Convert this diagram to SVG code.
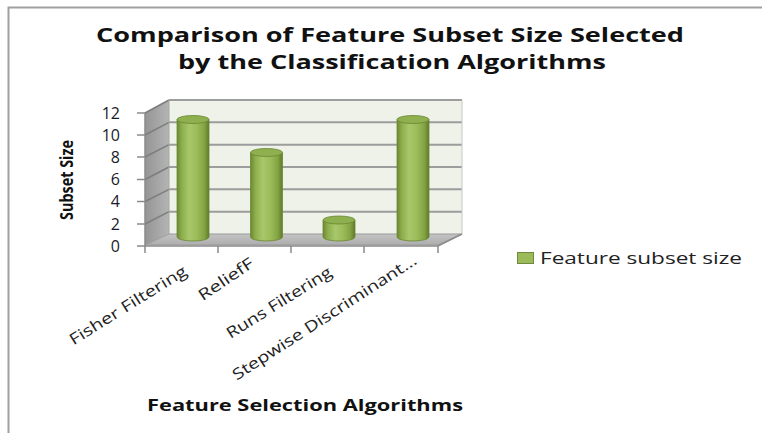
<svg xmlns="http://www.w3.org/2000/svg" width="762" height="433" viewBox="0 0 762 433">
<style>
.title{font-family:"Open Sans","Liberation Sans",sans-serif;font-weight:bold;font-size:20px;fill:#111}
.axtitle{font-family:"Open Sans","Liberation Sans",sans-serif;font-weight:bold;font-size:16px;fill:#111}
.ytitle{font-family:"Open Sans","Liberation Sans",sans-serif;font-weight:bold;font-size:18px;fill:#111}
.tick{font-family:"Open Sans","Liberation Sans",sans-serif;font-size:16px;fill:#1a1a2a}
.cat{font-family:"Open Sans","Liberation Sans",sans-serif;font-size:15.5px;fill:#222}
.leg{font-family:"Open Sans","Liberation Sans",sans-serif;font-size:16.5px;fill:#222}
.grid{stroke:#9d9d9d;stroke-width:2;fill:none}
.sgrid{stroke:#7d7d7d;stroke-width:1.5;fill:none}
.axis{stroke:#8a8a8a;stroke-width:1.5;fill:none}
.body{fill:url(#cyl);stroke:#6a8732;stroke-width:0.8}
.top{fill:#8fb04f;stroke:#6a8732;stroke-width:0.8}
</style>
<defs>
<linearGradient id="cyl" x1="0" y1="0" x2="1" y2="0">
<stop offset="0" stop-color="#6b8932"/>
<stop offset="0.15" stop-color="#8dae4c"/>
<stop offset="0.38" stop-color="#a7c76a"/>
<stop offset="0.62" stop-color="#9cbc5a"/>
<stop offset="0.85" stop-color="#84a444"/>
<stop offset="1" stop-color="#5f7b2a"/>
</linearGradient>
<linearGradient id="side" x1="0" y1="0" x2="1" y2="0">
<stop offset="0" stop-color="#959595"/>
<stop offset="1" stop-color="#b4b4b4"/>
</linearGradient>
<linearGradient id="floor" x1="0" y1="0" x2="0" y2="1">
<stop offset="0" stop-color="#c4c4c4"/>
<stop offset="1" stop-color="#adadad"/>
</linearGradient>
</defs>
<rect width="762" height="433" fill="#ffffff"/>
<path d="M8.5 433 V7.5 H762" fill="none" stroke="#a0a0a0" stroke-width="2"/>

<g id="title">
<text class="title" x="390" y="42" text-anchor="middle" textLength="588" lengthAdjust="spacingAndGlyphs">Comparison of Feature Subset Size Selected</text>
<text class="title" x="392" y="69" text-anchor="middle" textLength="428" lengthAdjust="spacingAndGlyphs">by the Classification Algorithms</text>
</g>

<g id="plot-area">
<polygon points="169,100 462,100 462,234 169,234" fill="#eef2e9"/>
<polygon points="145,113 169,100 169,234 145,245" fill="url(#side)"/>
<polygon points="145,245 169,234 462,234 438,245" fill="url(#floor)" stroke="#9a9a9a" stroke-width="1"/>
<g class="grid">
<line x1="169" y1="100" x2="462" y2="100"/>
<line x1="169" y1="122.3" x2="462" y2="122.3"/>
<line x1="169" y1="144.7" x2="462" y2="144.7"/>
<line x1="169" y1="167" x2="462" y2="167"/>
<line x1="169" y1="189.3" x2="462" y2="189.3"/>
<line x1="169" y1="211.7" x2="462" y2="211.7"/>
</g>
<g class="sgrid">
<line x1="145" y1="113" x2="169" y2="100"/>
<line x1="145" y1="135" x2="169" y2="122.3"/>
<line x1="145" y1="157" x2="169" y2="144.7"/>
<line x1="145" y1="179.5" x2="169" y2="167"/>
<line x1="145" y1="201.5" x2="169" y2="189.3"/>
<line x1="145" y1="224" x2="169" y2="211.7"/>
</g>
<line x1="169" y1="100" x2="169" y2="234" stroke="#a5a5a5" stroke-width="1"/>
<line x1="462" y1="100" x2="462" y2="234" stroke="#c8c8c8" stroke-width="1"/>
</g>

<g id="axes">
<path class="axis" d="M145 113 V246 H438 L462 234"/>
<path class="axis" d="M137 113 H145 M137 135 H145 M137 157 H145 M137 179.5 H145 M137 201.5 H145 M137 224 H145 M137 246 H145"/>
<path class="axis" d="M145 246 V253 M218 246 V253 M291 246 V253 M364 246 V253 M438 246 V253"/>
<g class="tick" text-anchor="end">
<text x="120" y="119">12</text>
<text x="120" y="141">10</text>
<text x="120" y="163">8</text>
<text x="120" y="185">6</text>
<text x="120" y="207">4</text>
<text x="120" y="230">2</text>
<text x="120" y="252">0</text>
</g>
</g>

<g id="bar-fisher">
<path class="body" d="M177 119.5 V237 A16 4 0 0 0 209 237 V119.5 Z"/>
<ellipse class="top" cx="193" cy="119.5" rx="16" ry="4"/>
</g>
<g id="bar-relieff">
<path class="body" d="M250.5 152.5 V237 A16 4 0 0 0 282.5 237 V152.5 Z"/>
<ellipse class="top" cx="266.5" cy="152.5" rx="16" ry="4"/>
</g>
<g id="bar-runs">
<path class="body" d="M323 220 V237 A16 4 0 0 0 355 237 V220 Z"/>
<ellipse class="top" cx="339" cy="220" rx="16" ry="4"/>
</g>
<g id="bar-stepwise">
<path class="body" d="M397 119.5 V237 A16 4 0 0 0 429 237 V119.5 Z"/>
<ellipse class="top" cx="413" cy="119.5" rx="16" ry="4"/>
</g>

<g id="category-labels" class="cat" text-anchor="end">
<text transform="translate(188,274) rotate(-32)" textLength="135" lengthAdjust="spacingAndGlyphs">Fisher Filtering</text>
<text transform="translate(255,266) rotate(-34)" textLength="63" lengthAdjust="spacingAndGlyphs">ReliefF</text>
<text transform="translate(333,275) rotate(-32)" textLength="121" lengthAdjust="spacingAndGlyphs">Runs Filtering</text>
<text transform="translate(418,263) rotate(-33)" textLength="216" lengthAdjust="spacingAndGlyphs">Stepwise Discriminant...</text>
</g>

<g id="axis-titles">
<text class="ytitle" transform="translate(73,180) rotate(-90)" text-anchor="middle" textLength="80" lengthAdjust="spacingAndGlyphs">Subset Size</text>
<text class="axtitle" x="147" y="411" textLength="316" lengthAdjust="spacingAndGlyphs">Feature Selection Algorithms</text>
</g>

<g id="legend">
<rect x="517.5" y="252.5" width="16" height="11" fill="#9bbb59" stroke="#71893f" stroke-width="1"/>
<text class="leg" x="540" y="264" textLength="202" lengthAdjust="spacingAndGlyphs">Feature subset size</text>
</g>
</svg>
